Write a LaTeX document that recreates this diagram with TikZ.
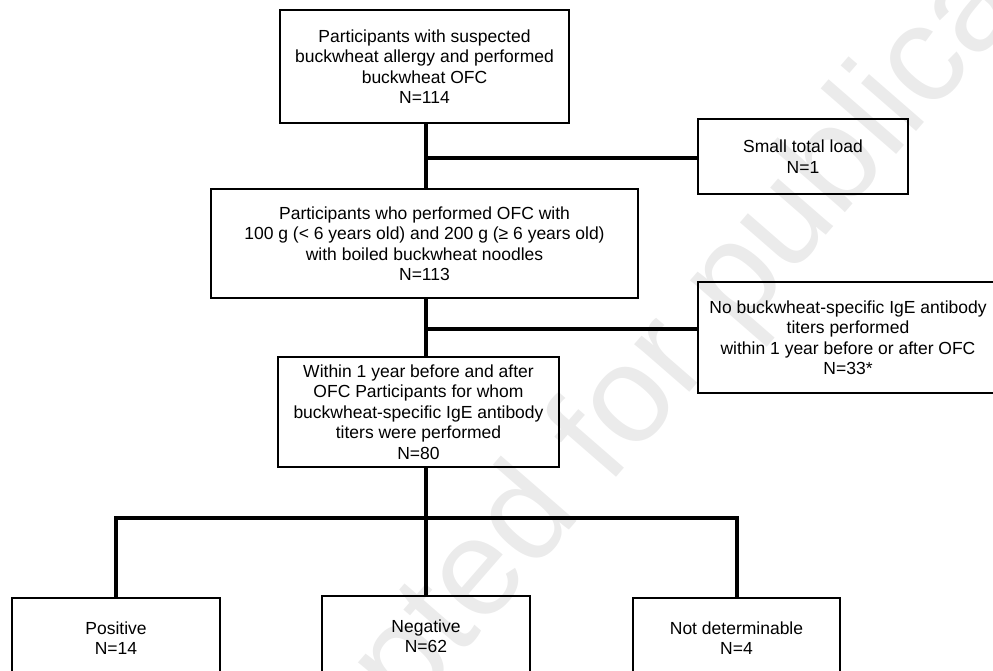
\documentclass[tikz,border=0pt]{standalone}
\usepackage{fontspec}
\setmainfont{Liberation Sans}
\usetikzlibrary{calc}
\tikzset{
  box/.style={ % image of a flow box
    draw, rectangle, line width=2pt,
    align=center, inner sep=0pt, text=black,
    font=\fontsize{17.5}{20.5}\selectfont
  },
  link/.style={ % thick connector between boxes
    line width=4pt
  },
  stamp/.style={ % faint watermark across the page
    text=black!8, rotate=49, inner sep=0pt,
    font=\fontsize{138}{138}\selectfont
  }
}

\begin{document}
\begin{tikzpicture}[x=1pt, y=-1pt]

  \useasboundingbox (0,0) rectangle (993,670);
  \node[stamp] (mark) at (662,370) {Accepted for publication};

  \node[box, minimum width=289pt, minimum height=113pt] (A) at (424.5,66.5)
    {Participants with suspected\\buckwheat allergy and performed\\buckwheat OFC\\N=114};
  \node[box, minimum width=427pt, minimum height=109pt] (B) at (424.5,243.5)
    {Participants who performed OFC with\\100 g (< 6 years old) and 200 g (≥ 6 years old)\\with boiled buckwheat noodles\\N=113};
  \node[box, minimum width=281pt, minimum height=110pt] (C) at (418.5,412)
    {Within 1 year before and after\\OFC Participants for whom\\buckwheat-specific IgE antibody\\titers were performed\\N=80};

  \node[box, minimum width=210pt, minimum height=75pt] (S) at (803,156.5)
    {Small total load\\N=1};
  \node[box, minimum width=300pt, minimum height=111pt] (X) at (848,337.5)
    {No buckwheat-specific IgE antibody\\titers performed\\within 1 year before or after OFC\\N=33*};

  \node[box, minimum width=208pt, minimum height=80pt] (P) at (116,638)
    {Positive\\N=14};
  \node[box, minimum width=208pt, minimum height=80pt] (N) at (426,636)
    {Negative\\N=62};
  \node[box, minimum width=207pt, minimum height=80pt] (D) at (736.5,638)
    {Not determinable\\N=4};

  \coordinate (j1) at (426,158);
  \coordinate (j2) at (426,329);
  \coordinate (j3) at (426,518);

  \draw[link] (A.south -| j1) -- (B.north -| j1);
  \draw[link] (j1) -- (S.west |- j1);
  \draw[link] (B.south -| j2) -- (C.north -| j2);
  \draw[link] (j2) -- (X.west |- j2);
  \draw[link] (C.south -| j3) -- (N.north);
  \draw[link] (P.north) -- (P.north |- j3) -- (D.north |- j3) -- (D.north);

\end{tikzpicture}
\end{document}
